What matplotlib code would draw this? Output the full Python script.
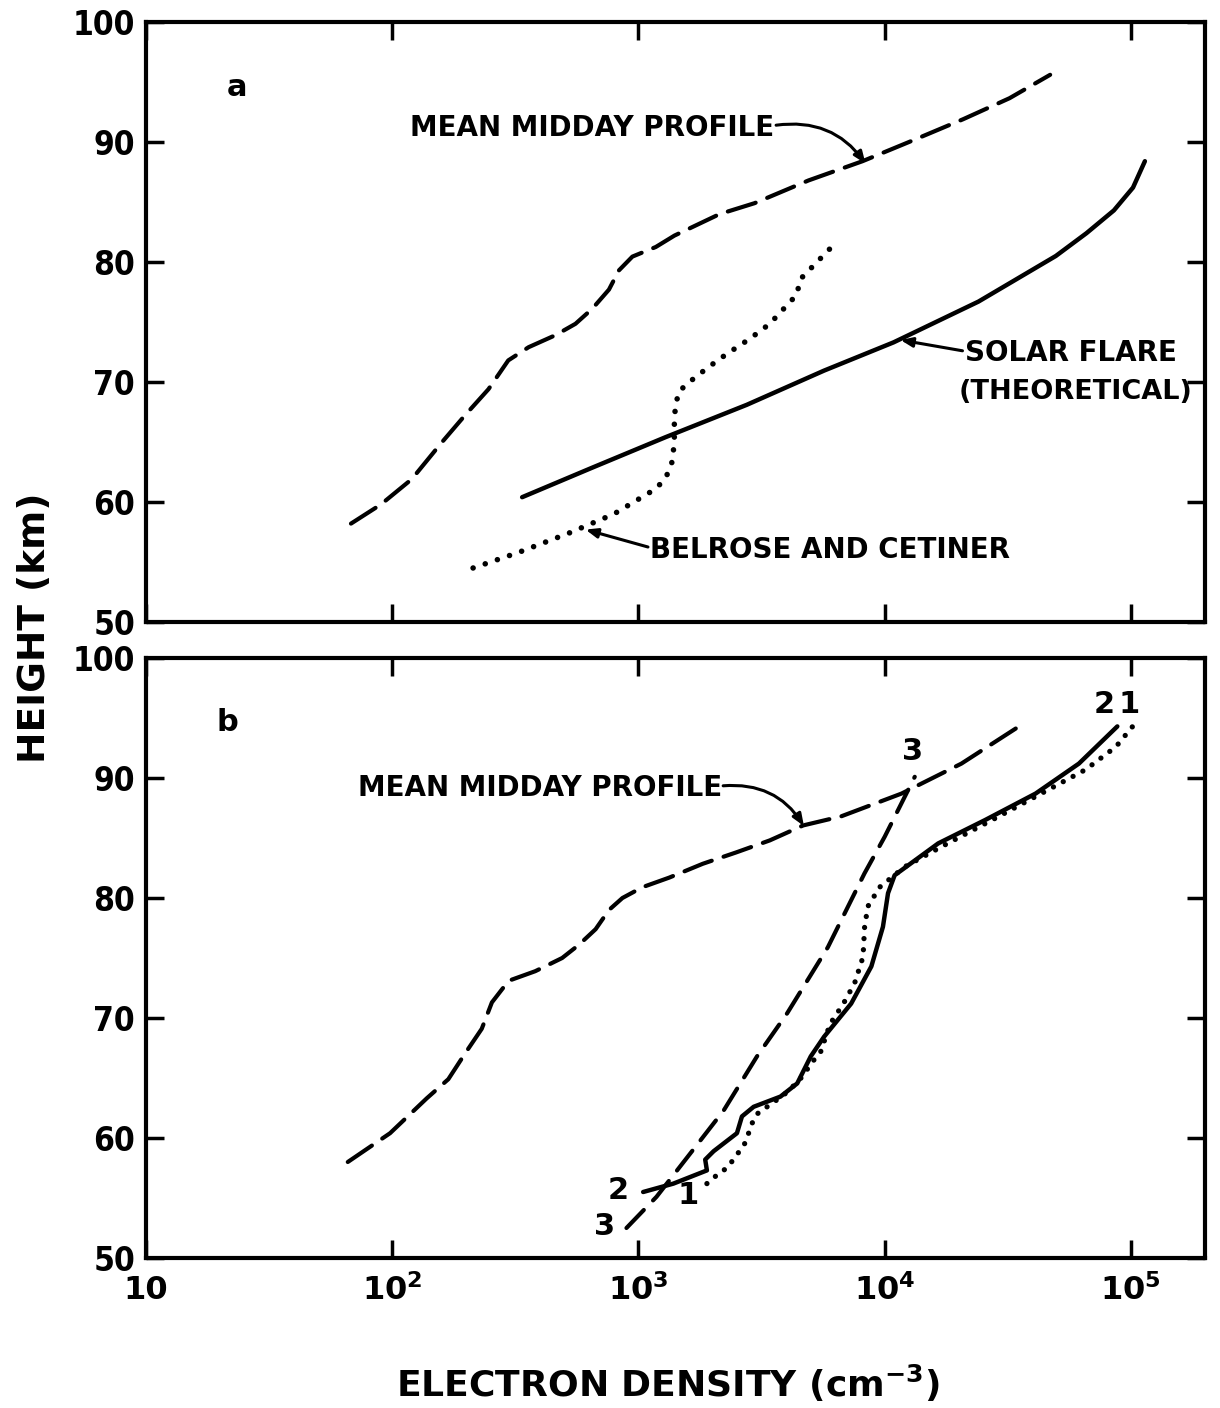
import matplotlib
matplotlib.use("Agg")
import matplotlib.pyplot as plt
from matplotlib.ticker import FixedLocator, NullLocator, FixedFormatter

# ---------------- data ----------------
# Panel a
mid_a_x = [68, 90, 120, 158, 197, 246, 296, 358, 460, 555, 649, 759, 833, 945,
           1176, 1400, 2140, 2960, 4910, 8130, 12560, 20840, 32150, 47000]
mid_a_y = [58.2, 59.8, 61.9, 64.9, 67.2, 69.4, 71.8, 72.9, 73.9, 74.85, 76.1, 77.7,
           79.3, 80.45, 81.25, 82.2, 84.0, 84.9, 86.8, 88.4, 90.0, 91.9, 93.65, 95.6]

flare_x = [337, 649, 1288, 2755, 5675, 10860, 24040, 49550, 66000, 85300, 102000, 114000]
flare_y = [60.4, 62.86, 65.4, 68.1, 70.95, 73.3, 76.7, 80.5, 82.4, 84.3, 86.2, 88.4]

belrose_x = [213, 326, 521, 795, 1176, 1291, 1367, 1399, 1399, 1413, 1467, 1610,
             1913, 2271, 2832, 3415, 4385, 4560, 5990]
belrose_y = [54.5, 55.8, 57.4, 59.0, 61.1, 62.0, 63.3, 64.9, 66.5, 68.1, 69.25, 70.0,
             71.2, 72.3, 73.6, 74.85, 77.25, 78.6, 81.1]

# Panel b
mid_b_x = [66, 98, 138, 169, 197, 231, 254, 297, 381, 490, 573, 670, 759, 861, 1038,
           1334, 1824, 2495, 3415, 4670, 6650, 11700, 20500, 36700]
mid_b_y = [58.0, 60.4, 63.3, 64.9, 67.0, 69.1, 71.3, 73.1, 73.9, 75.0, 76.1, 77.4,
           79.0, 80.0, 80.9, 81.7, 82.85, 83.8, 84.8, 86.05, 86.8, 88.7, 91.2, 94.55]

c1_x = [1897, 2080, 2320, 2470, 2673, 2785, 2890, 3030, 3900, 4500, 5160, 5500, 6000,
        6800, 7550, 8170, 8290, 8550, 9540, 12070, 17100, 27300, 42300, 65500, 86900, 101700]
c1_y = [56.2, 56.9, 57.6, 58.45, 59.3, 60.25, 61.2, 62.0, 63.6, 64.8, 66.5, 67.2, 69.5,
        71.2, 72.9, 75.1, 77.6, 79.3, 80.9, 82.6, 84.3, 86.5, 88.6, 90.7, 92.6, 94.3]

c2_x = [1045, 1387, 1897, 1867, 2020, 2512, 2633, 2937, 3773, 4415, 5010, 5680, 7310,
        8830, 9840, 10320, 10980, 16500, 25600, 41000, 61500, 88100]
c2_y = [55.5, 56.2, 57.3, 58.2, 58.9, 60.4, 61.8, 62.6, 63.45, 64.55, 66.8, 68.45, 71.2,
        74.3, 77.6, 80.4, 81.9, 84.55, 86.5, 88.7, 91.2, 94.3]

c3_x = [894, 1184, 1622, 2220, 3030, 4020, 5880, 6870, 8280, 10000, 13250]
c3_y = [52.5, 55.1, 58.7, 62.3, 66.8, 70.4, 75.9, 78.7, 82.05, 85.1, 90.1]

x_ticks = [10, 100, 1000, 10000, 100000]
x_ticklabels = ["10", r"$\mathbf{10^2}$", r"$\mathbf{10^3}$", r"$\mathbf{10^4}$", r"$\mathbf{10^5}$"]
y_ticks = [50, 60, 70, 80, 90, 100]
y_ticklabels = ["50", "60", "70", "80", "90", "100"]

# ---------------- figure ----------------
plt.rcParams['mathtext.fontset'] = 'dejavusans'
fig = plt.figure(figsize=(12.2, 14.08), dpi=100)
W, H = 1220, 1408
left, right = 146, 1205
axa = fig.add_axes([left / W, 1 - 622 / H, (right - left) / W, 600 / H])
axb = fig.add_axes([left / W, 1 - 1258 / H, (right - left) / W, 600 / H])

TICKFONT = dict(family='DejaVu Sans', weight='bold', size=24, stretch='condensed')
TXT = 20
ARROW = dict(arrowstyle='-|>,head_length=0.7,head_width=0.28', color='black', lw=2.2,
             shrinkA=0, shrinkB=0)

for ax in (axa, axb):
    ax.set_xscale('log')
    ax.set_xlim(10, 2.0e5)
    ax.set_ylim(50, 100)
    ax.xaxis.set_major_locator(FixedLocator(x_ticks))
    ax.xaxis.set_minor_locator(NullLocator())
    ax.yaxis.set_major_locator(FixedLocator(y_ticks))
    ax.yaxis.set_minor_locator(NullLocator())
    ax.tick_params(which='major', direction='in', length=13, width=2.5,
                   top=True, right=True, left=True, bottom=True, pad=8)
    for s in ax.spines.values():
        s.set_linewidth(3)
    ax.set_yticklabels(y_ticklabels, fontdict=TICKFONT)

axa.set_xticklabels([])
axb.xaxis.set_major_formatter(FixedFormatter(x_ticklabels))
axb.tick_params(axis='x', pad=12)
for t in axb.get_xticklabels():
    t.set_fontsize(23)
    t.set_fontweight('bold')

# ---------------- panel a ----------------
axa.plot(mid_a_x, mid_a_y, color='black', lw=3, linestyle=(0, (7, 3)),
         dash_capstyle='round')
axa.plot(flare_x, flare_y, color='black', lw=3.2, solid_capstyle='round')
axa.plot(belrose_x, belrose_y, color='black', lw=4, linestyle=(0, (0.01, 2.3)),
         dash_capstyle='round')

axa.text(0.086, 0.89, "a", transform=axa.transAxes, fontsize=22, fontweight='bold',
         ha='center', va='center')

axa.text(0.249, 0.823, "MEAN MIDDAY PROFILE", transform=axa.transAxes, fontsize=TXT,
         fontweight='bold', ha='left', va='center')
axa.annotate("", xy=(8360, 88.2), xytext=(0.595, 0.828), textcoords='axes fraction',
             arrowprops=dict(ARROW, connectionstyle='arc3,rad=-0.3'))

axa.text(0.773, 0.448, "SOLAR FLARE", transform=axa.transAxes, fontsize=TXT,
         fontweight='bold', ha='left', va='center')
axa.text(0.767, 0.383, "(THEORETICAL)", transform=axa.transAxes, fontsize=19.5,
         fontweight='bold', ha='left', va='center')
axa.annotate("", xy=(11600, 73.5), xytext=(0.771, 0.452), textcoords='axes fraction',
             arrowprops=dict(ARROW))

axa.text(0.476, 0.12, "BELROSE AND CETINER", transform=axa.transAxes, fontsize=TXT,
         fontweight='bold', ha='left', va='center')
axa.annotate("", xy=(610, 57.7), xytext=(0.474, 0.125), textcoords='axes fraction',
             arrowprops=dict(ARROW))

# ---------------- panel b ----------------
axb.plot(mid_b_x, mid_b_y, color='black', lw=3, linestyle=(0, (7, 3)),
         dash_capstyle='round')
axb.plot(c3_x, c3_y, color='black', lw=3, linestyle=(0, (6, 3.2)),
         dash_capstyle='round')
axb.plot(c2_x, c2_y, color='black', lw=3.2, solid_capstyle='round')
axb.plot(c1_x, c1_y, color='black', lw=3.8, linestyle=(0, (0.01, 2.1)),
         dash_capstyle='round')

axb.text(0.077, 0.893, "b", transform=axb.transAxes, fontsize=22, fontweight='bold',
         ha='center', va='center')
axb.text(0.2, 0.783, "MEAN MIDDAY PROFILE", transform=axb.transAxes, fontsize=TXT,
         fontweight='bold', ha='left', va='center')
axb.annotate("", xy=(4700, 86.0), xytext=(0.545, 0.787), textcoords='axes fraction',
             arrowprops=dict(ARROW, connectionstyle='arc3,rad=-0.3'))

for s, fx, fy in [("3", 0.724, 0.845), ("2", 0.905, 0.922), ("1", 0.928, 0.922),
                  ("2", 0.446, 0.112), ("3", 0.433, 0.052), ("1", 0.512, 0.104)]:
    axb.text(fx, fy, s, transform=axb.transAxes, fontsize=22, fontweight='bold',
             ha='center', va='center')

# ---------------- axis titles ----------------
fig.text(35 / W, 1 - 628 / H, "HEIGHT (km)", rotation=90, fontsize=27,
         fontweight='bold', ha='center', va='center')
fig.text(668 / W, 1 - 1383 / H, r"ELECTRON DENSITY (cm$^{\mathbf{-3}}$)", fontsize=26,
         fontweight='bold', ha='center', va='center')

fig.savefig("out.png", dpi=100, facecolor='white')
